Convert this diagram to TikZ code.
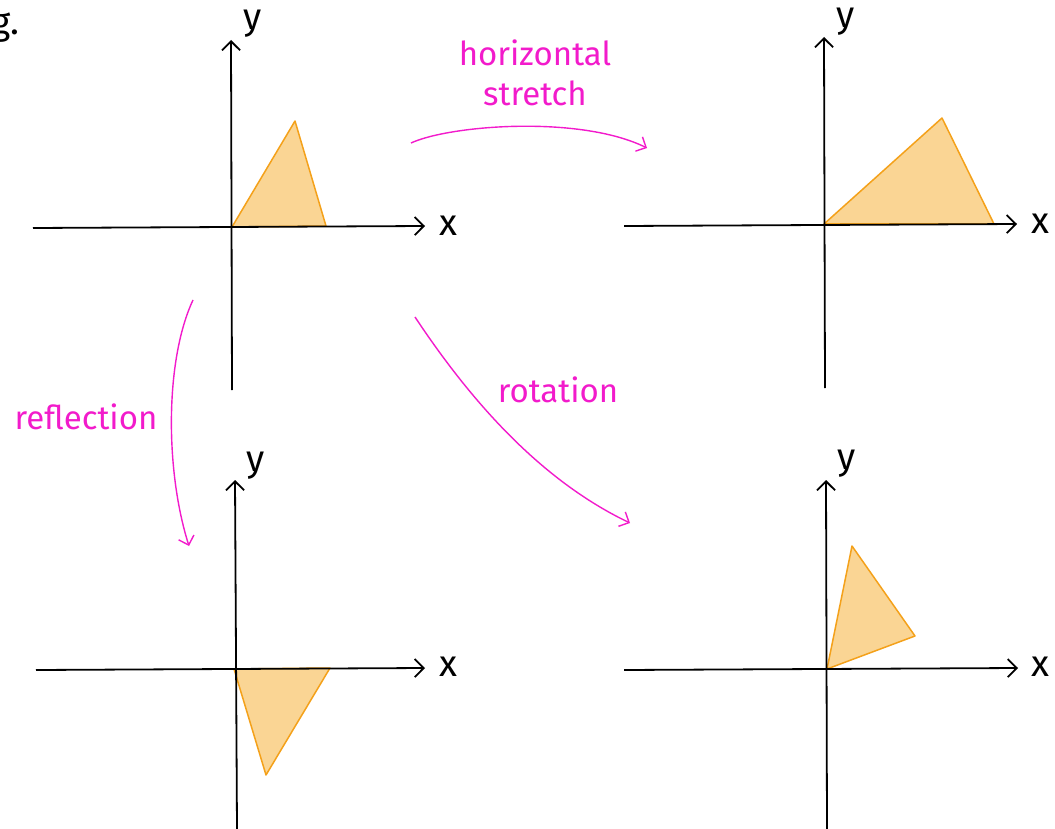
\documentclass[tikz,border=0pt]{standalone}
\usepackage{fontspec}
\setmainfont{Fira Sans}
\usetikzlibrary{arrows.meta}
\definecolor{mag}{HTML}{F21BCB}
\definecolor{tri}{HTML}{F4A11A}
\definecolor{trifill}{HTML}{FAD594}
\tikzset{
  axis/.style={line width=1.8pt, black, -{Straight Barb[length=9pt,width=18pt,line width=1.8pt]}},
  axlabel/.style={font=\fontsize{37}{37}\selectfont, inner sep=0pt},
  triang/.style={draw=tri, fill=trifill, line width=1.5pt, line join=round},
  trans/.style={draw=mag, line width=1.4pt, -{Straight Barb[length=8pt,width=16pt,line width=1.4pt]}},
  translabel/.style={text=mag, font=\fontsize{33}{40}\selectfont, inner sep=0pt, align=center}
}
\begin{document}
\begin{tikzpicture}[x=1pt,y=-1pt]
\useasboundingbox (0,0) rectangle (1055,829);
% g.
\node[axlabel, anchor=west] (g) at (-9,28) {g.};
% --- top-left
\coordinate (a1xs) at (33,228); \coordinate (a1xe) at (425,226);
\coordinate (a1ys) at (232,390); \coordinate (a1ye) at (231,40);
\draw[triang] (232,227) -- (295,121) -- (326,226) -- cycle;
\draw[axis] (a1xs) -- (a1xe);
\draw[axis] (a1ys) -- (a1ye);
\node[axlabel] (a1x) at (448,226) {x};
\node[axlabel] (a1y) at (253,24) {y};
% --- top-right
\coordinate (a2xs) at (624,226); \coordinate (a2xe) at (1017,224);
\coordinate (a2ys) at (825,388); \coordinate (a2ye) at (824,37);
\draw[triang] (824,224) -- (942,118) -- (994,224) -- cycle;
\draw[axis] (a2xs) -- (a2xe);
\draw[axis] (a2ys) -- (a2ye);
\node[axlabel] (a2x) at (1040,224) {x};
\node[axlabel] (a2y) at (846,22) {y};
% --- bottom-left
\coordinate (a3xs) at (36,670); \coordinate (a3xe) at (425,668);
\coordinate (a3ys) at (237,829); \coordinate (a3ye) at (235,480);
\draw[triang] (234,669) -- (330,668) -- (266,775) -- cycle;
\draw[axis] (a3xs) -- (a3xe);
\draw[axis] (a3ys) -- (a3ye);
\node[axlabel] (a3x) at (448,667) {x};
\node[axlabel] (a3y) at (256,466) {y};
% --- bottom-right
\coordinate (a4xs) at (624,670); \coordinate (a4xe) at (1018,668);
\coordinate (a4ys) at (827,829); \coordinate (a4ye) at (826,480);
\draw[triang] (827,669) -- (852,546) -- (915,636) -- cycle;
\draw[axis] (a4xs) -- (a4xe);
\draw[axis] (a4ys) -- (a4ye);
\node[axlabel] (a4x) at (1040,667) {x};
\node[axlabel] (a4y) at (847,464) {y};
% --- transformation arrows
\coordinate (h1) at (411,143); \coordinate (h2) at (647,148);
\draw[trans] (h1) .. controls (450,125) and (580,115) .. (h2);
\node[translabel] (hl) at (535,73) {horizontal\\stretch};
\coordinate (r1) at (193,300); \coordinate (r2) at (189,546);
\draw[trans] (r1) .. controls (165,360) and (165,470) .. (r2);
\node[translabel] (rl) at (86,417) {reflection};
\coordinate (o1) at (415,317); \coordinate (o2) at (630,523);
\draw[trans] (o1) .. controls (470,400) and (540,480) .. (o2);
\node[translabel] (ol) at (558,390) {rotation};
\end{tikzpicture}
\end{document}
